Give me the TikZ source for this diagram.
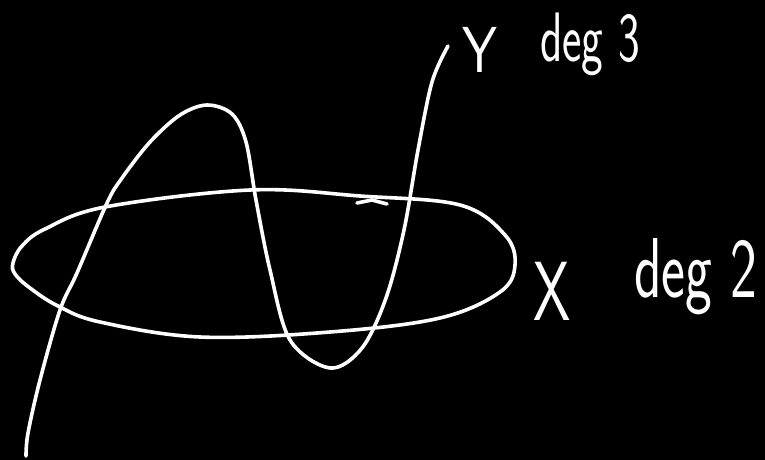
\documentclass[tikz,border=0pt]{standalone}
\usepackage{graphicx}
\begin{document}
\begin{tikzpicture}[x=1pt,y=-1pt,
  stroke/.style={draw=white, line width=3.6pt, line cap=round, line join=round},
  hand/.style={text=white, font=\sffamily, inner sep=0pt, anchor=base west}]
\fill[black] (0,0) rectangle (765,460);
\useasboundingbox (0,0) rectangle (765,460);
% conic X (degree 2)
\draw[stroke] plot[smooth cycle, tension=0.6] coordinates {
  (13,263) (22,246) (45,229) (105,207) (250,190) (360,196) (460,205) (505,235)
  (515,265) (500,292) (440,318) (330,332) (200,337) (100,322) (58,306) (30,288) (15,274)};
% cubic Y (degree 3)
\draw[stroke] plot[smooth, tension=0.55] coordinates {
  (26,456) (28,433) (40,380) (60,310) (77,273) (107,203) (122,178) (150,142)
  (180,115) (207,105) (232,114) (246,142) (256,200) (270,270) (290,340) (330,368)
  (362,348) (386,298) (404,230) (418,150) (432,82) (448,46)};
% small stroke
\draw[stroke] (357,203) -- (372,200) -- (387,204);
% labels
\node[hand] (ylab) at (462,72) {\fontsize{65}{65}\selectfont\scalebox{0.86}[1]{Y}};
\node[hand] (ydeg) at (540,61) {\fontsize{70}{70}\selectfont\scalebox{0.66}[1]{deg 3}};
\node[hand] (xlab) at (533,320) {\fontsize{84}{84}\selectfont\scalebox{0.71}[1]{X}};
\node[hand] (xdeg) at (634,297) {\fontsize{85}{85}\selectfont\scalebox{0.67}[1]{deg 2}};
\end{tikzpicture}
\end{document}
